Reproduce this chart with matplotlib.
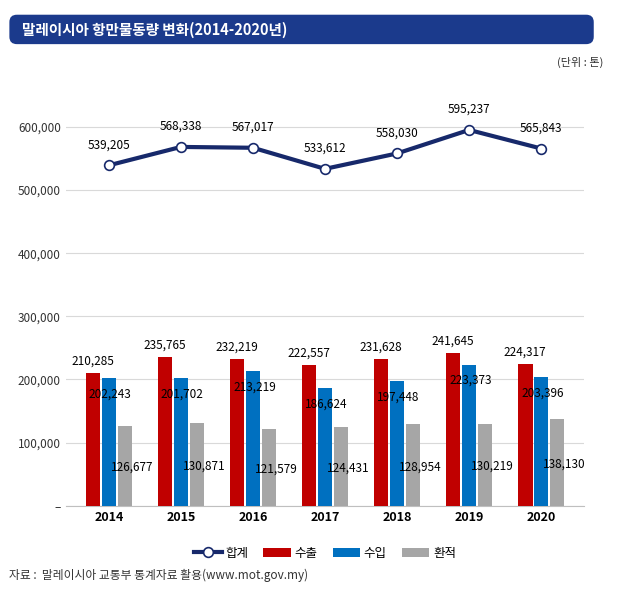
import numpy as np
import matplotlib
matplotlib.use("Agg")
import matplotlib.pyplot as plt
from matplotlib.patches import FancyBboxPatch

plt.rcParams['font.family'] = ['Noto Sans CJK KR', 'DejaVu Sans']

# --- DATA ---
years = ['2014', '2015', '2016', '2017', '2018', '2019', '2020']
export = [210285, 235765, 232219, 222557, 231628, 241645, 224317]
imports = [202243, 201702, 213219, 186624, 197448, 223373, 203396]
transship = [126677, 130871, 121579, 124431, 128954, 130219, 138130]
total = [539205, 568338, 567017, 533612, 558030, 595237, 565843]

RED = '#c00000'
BLUE = '#0070c0'
GRAY = '#a6a6a6'
NAVY = '#17296b'

fig = plt.figure(figsize=(6.25, 6.13), dpi=100)
ax = fig.add_axes([0.105, 0.175, 0.83, 0.69])

x = np.arange(len(years))
w = 0.2
ax.bar(x - w * 1.1, export, w, color=RED, label='수출', zorder=3)
ax.bar(x, imports, w, color=BLUE, label='수입', zorder=3)
ax.bar(x + w * 1.1, transship, w, color=GRAY, label='환적', zorder=3)
ax.plot(x, total, color=NAVY, lw=3, marker='o', ms=7, mfc='white',
        mec=NAVY, mew=1.2, label='합계', zorder=4)

fs = 8.5
for i in range(len(years)):
    ax.text(x[i] - w * 1.1, export[i] + 9000, f"{export[i]:,}", ha='center', va='bottom', fontsize=fs, zorder=5)
    ax.text(x[i] + 0.02, imports[i] - 25000, f"{imports[i]:,}", ha='center', va='center', fontsize=fs, zorder=5)
    ax.text(x[i] + w * 1.6, transship[i] * 0.48, f"{transship[i]:,}", ha='center', va='center', fontsize=fs, zorder=5)
    ax.text(x[i], total[i] + 22000, f"{total[i]:,}", ha='center', va='bottom', fontsize=fs, zorder=5)

ax.set_ylim(0, 670000)
ax.set_xlim(-0.6, 6.6)
ticks = [0, 100000, 200000, 300000, 400000, 500000, 600000]
ax.set_yticks(ticks)
ax.set_yticklabels(['–'] + [f"{t:,}" for t in ticks[1:]], fontsize=8.5, color='#333333')
ax.set_xticks(x)
ax.set_xticklabels(years, fontsize=9, fontweight='bold')
ax.tick_params(length=0)
ax.grid(axis='y', color='#d9d9d9', lw=0.8, zorder=0)
for s in ['top', 'right', 'left']:
    ax.spines[s].set_visible(False)
ax.spines['bottom'].set_color('#bfbfbf')

ax.legend(loc='upper center', bbox_to_anchor=(0.5, -0.07), ncol=4, frameon=False,
          fontsize=9, handlelength=2.2, columnspacing=1.2, handletextpad=0.3)

# title banner
banner = FancyBboxPatch((0.015, 0.928), 0.935, 0.048, boxstyle='round,pad=0,rounding_size=0.012',
                        transform=fig.transFigure, facecolor='#1b3a8c', edgecolor='none')
fig.patches.append(banner)
fig.text(0.035, 0.952, '말레이시아 항만물동량 변화(2014-2020년)', color='white',
         fontsize=10.5, fontweight='bold', va='center')
fig.text(0.965, 0.898, '(단위 : 톤)', fontsize=8, ha='right', va='center', color='#333333')
fig.text(0.015, 0.062, '자료 :  말레이시아 교통부 통계자료 활용(www.mot.gov.my)', fontsize=8.5,
         va='center', color='#333333')

fig.savefig('out.png', dpi=100)
